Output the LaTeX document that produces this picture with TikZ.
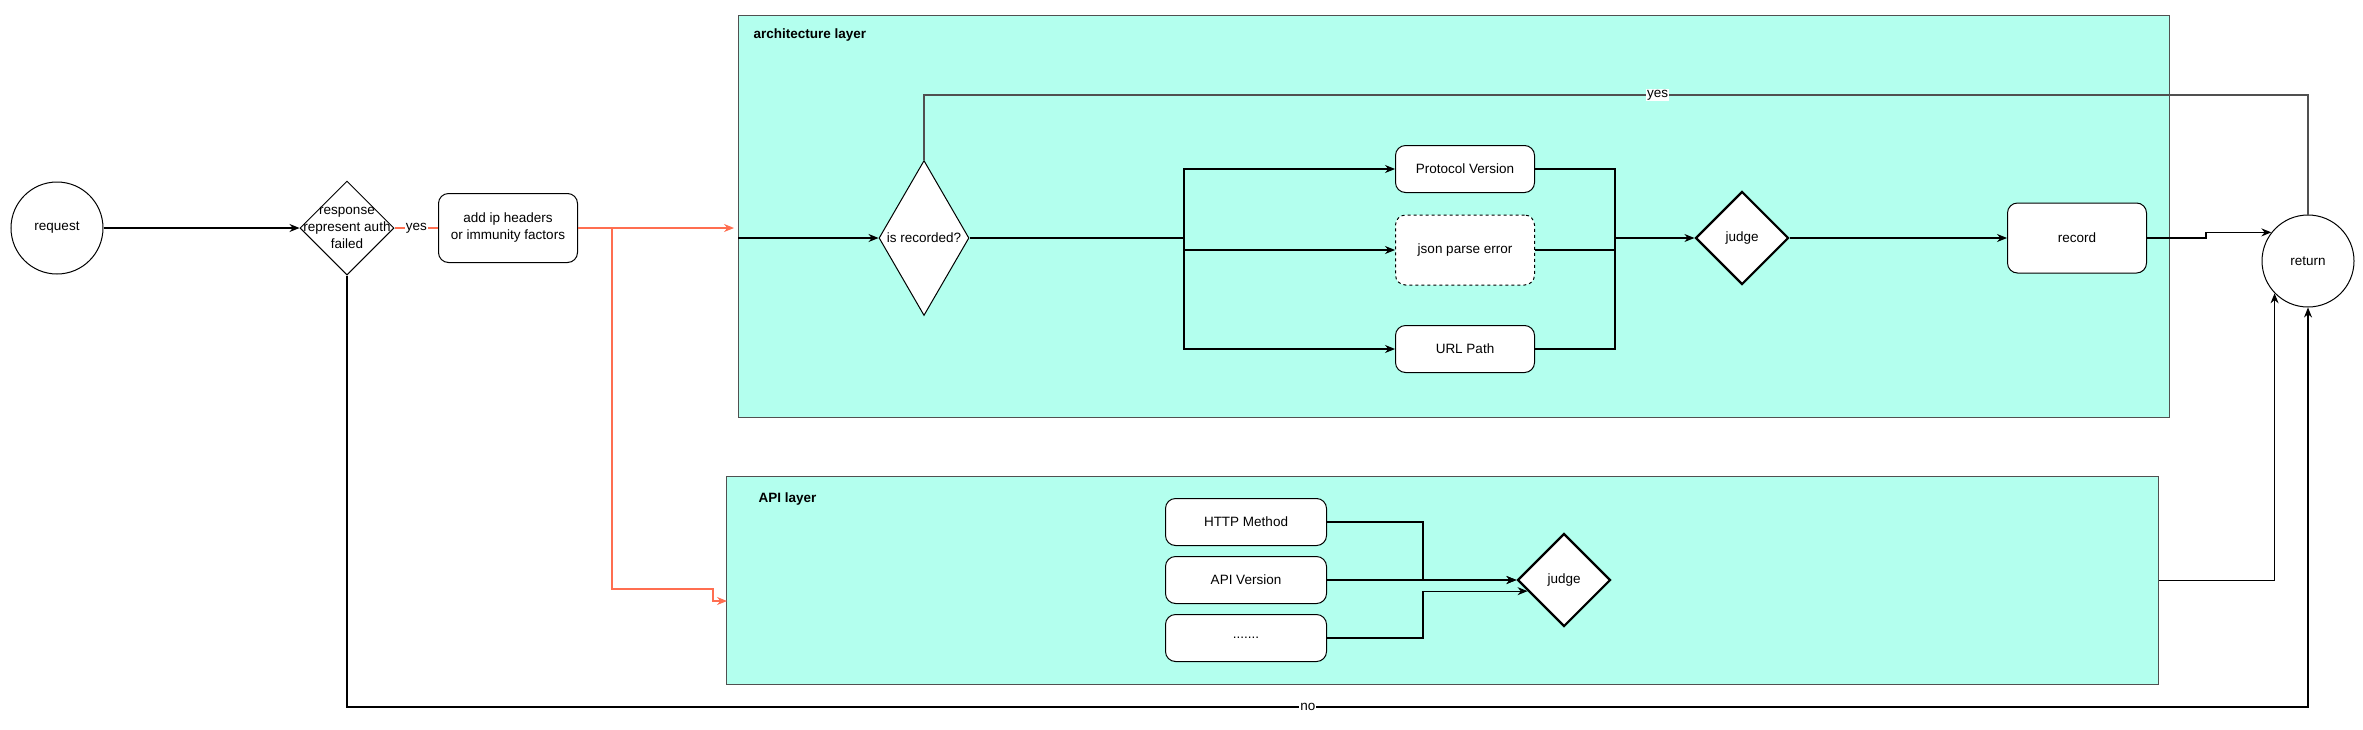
\documentclass[tikz,border=0pt]{standalone}
\usepackage{fontspec}
\setmainfont{Liberation Sans}
\usetikzlibrary{shapes.geometric,arrows.meta,positioning}
\definecolor{layerfill}{RGB}{179,255,238}
\definecolor{layerline}{RGB}{80,80,80}
\definecolor{hotline}{RGB}{255,110,80}
\newcommand{\txt}{\fontsize{13.5}{17}\selectfont}
\tikzset{
  box/.style={draw, rounded corners=10pt, fill=white, line width=1pt,
    minimum width=139pt, minimum height=47pt, font=\txt},
  dbox/.style={box, dashed},
  dia/.style={draw, diamond, fill=white, inner sep=0pt, line width=1pt, font=\txt},
  jdia/.style={dia, line width=2.2pt, minimum width=93pt, minimum height=93pt},
  term/.style={draw, circle, minimum size=92pt, line width=1pt, font=\txt},
  layer/.style={draw=layerline, fill=layerfill, line width=1.1pt, anchor=north west},
  title/.style={anchor=west, font=\txt\bfseries},
  wire/.style={line width=1.1pt},
  conn/.style={wire, -{Stealth[length=10pt,width=8pt]}},
  hot/.style={wire, draw=hotline},
  hotconn/.style={conn, draw=hotline},
  lbl/.style={fill=white, inner sep=1pt, font=\txt},
}

\begin{document}
\begin{tikzpicture}[x=1pt, y=-1pt]
    \useasboundingbox (0,0) rectangle (2363,729);
    % layers
    \node[layer, minimum width=1431pt, minimum height=402pt] (arch) at (738,15) {};
    \node[layer, minimum width=1432pt, minimum height=208pt] (api) at (726,476) {};
    \node[title] (archtitle) at (750,35) {architecture layer};
    \node[title] (apititle) at (755,499) {API layer};
    % entry
    \node[term] (request) at (57,228) {request};
    \node[dia, minimum width=94pt, minimum height=94pt,
      label={[align=center, font=\txt]center:response\\represent auth\\failed}] (resp) at (347,228) {};
    \node[box, minimum height=69pt, align=center] (addip) at (508,228) {add ip headers\\or immunity factors};
    \node[term] (return) at (2308,261) {return};
    % architecture layer
    \node[dia, minimum width=90pt, minimum height=155pt,
      label={[font=\txt]center:is recorded?}] (isrec) at (924,238) {};
    \node[box] (proto) at (1465,169) {Protocol Version};
    \node[dbox, minimum height=70pt] (json) at (1465,250) {json parse error};
    \node[box] (url) at (1465,349) {URL Path};
    \node[jdia, label={[font=\txt]center:judge}] (judgeA) at (1742,238) {};
    \node[box, minimum height=70pt] (record) at (2077,238) {record};
    % API layer
    \node[box, minimum width=161pt] (http) at (1246,522) {HTTP Method};
    \node[box, minimum width=161pt] (apiver) at (1246,580) {API Version};
    \node[box, minimum width=161pt] (more) at (1246,638) {.......};
    \node[jdia, label={[font=\txt]center:judge}] (judgeB) at (1564,580) {};
    % helper points
    \coordinate (fork) at (612,228);
    \coordinate (jog) at (713,589);
    \coordinate (apiin) at (727,601);
    \coordinate (split) at (1184,238);
    \coordinate (merge) at (1615,238);
    \coordinate (ytop) at (0,95);
    \coordinate (ybot) at (0,707);
    % connectors
    \draw[conn] (request) -- (resp);
    \draw[hot] (resp) -- node[lbl] {yes} (addip);
    \draw[hotconn, shorten >=4pt] (addip.east) -- (addip.east -| arch.west);
    \draw[hotconn] (fork) |- (jog) |- (apiin);
    \draw[conn] (arch.west |- isrec) -- (isrec);
    \draw[wire] (isrec.east) -- (split);
    \draw[conn] (split) |- (proto);
    \draw[conn] (split |- json) -- (json);
    \draw[conn] (split) |- (url);
    \draw[wire] (proto.east) -| (merge);
    \draw[wire] (json.east) -- (json -| merge);
    \draw[wire] (url.east) -| (merge);
    \draw[conn] (merge) -- (judgeA);
    \draw[conn] (judgeA) -- (record);
    \draw[conn] (record.east) -- ++(59,0) |- (return.142);
    \draw[wire, draw=layerline] (isrec.north) -- (isrec.north |- ytop)
      -- node[lbl, pos=0.53] {yes} (return.north |- ytop) -- (return.north);
    \draw[conn] (resp.south) -- (resp.south |- ybot)
      -- node[lbl, pos=0.49] {no} (return.south |- ybot) -- (return.south);
    \draw[conn] (http.east) -- ++(96,0) |- (judgeB.west);
    \draw[conn] (apiver.east) -- (judgeB.west);
    \draw[conn] (more.east) -- ++(96,0) |- (judgeB.197);
    \draw[conn] (api.east) -| (return.224);
\end{tikzpicture}
\end{document}
